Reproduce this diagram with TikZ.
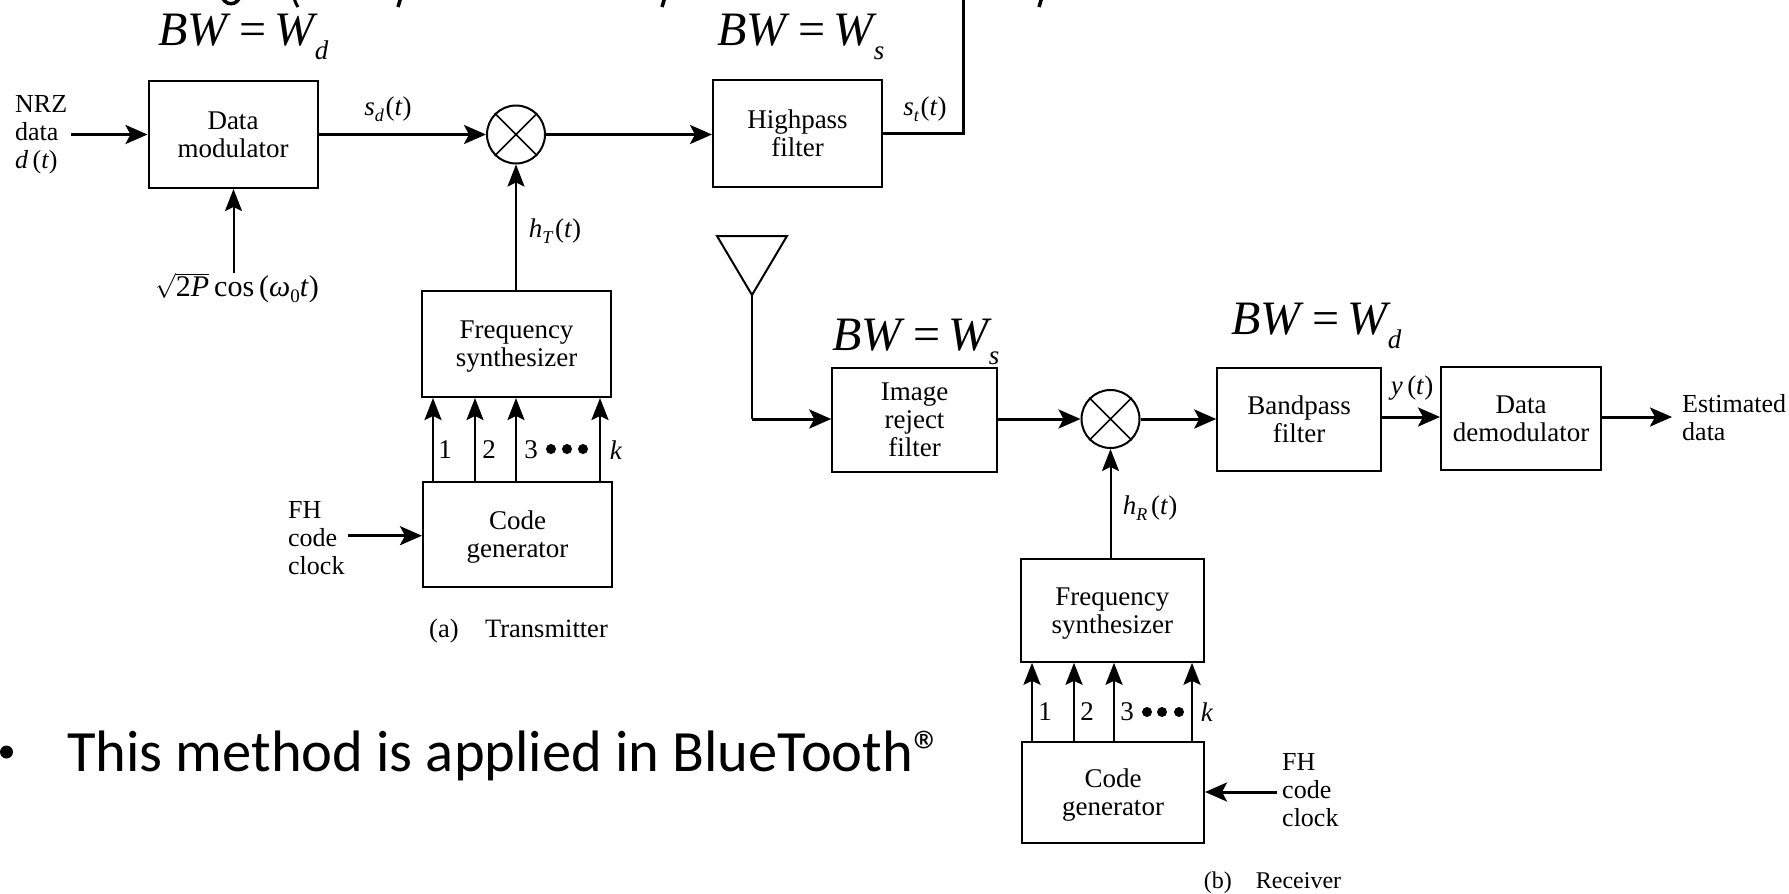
\documentclass[tikz,border=0pt]{standalone}
\usepackage{fontspec}
\setmainfont{Liberation Serif}
\newfontfamily\calfont{Carlito}
\usetikzlibrary{arrows.meta}
\newcommand{\fsz}[1]{\fontsize{#1}{#1}\selectfont}
\newcommand{\siglab}[2]{\textit{#1}\raisebox{-6pt}{\fsz{18}\textit{#2}}\kern1.5pt(\textit{t})}
\newcommand{\bwlab}[1]{\fsz{48}\textit{BW}\kern8pt=\kern8pt\textit{W}\kern-3pt\raisebox{-14pt}{\fsz{27}\textit{#1}}}
\tikzset{
  blk/.style={draw,line width=2pt,inner sep=0pt,align=center,font=\fontsize{27}{28}\selectfont,text depth=0pt},
  lab/.style={inner sep=0pt,align=left,font=\fsz{26}},
  sig/.style={inner sep=0pt,font=\fsz{27}},
  mix/.style={draw,circle,line width=2pt,minimum size=58pt,inner sep=0pt},
  wire/.style={line width=3pt},
  arr/.style={line width=3pt,-{Stealth[length=22pt,width=19pt,inset=5pt]}},
  varr/.style={line width=2.6pt,-{Stealth[length=22pt,width=17pt,inset=4pt]}},
  dotm/.style={circle,fill=black,inner sep=0pt,minimum size=10pt},
  bw/.style={inner sep=0pt,anchor=base west}
}
\begin{document}
\begin{tikzpicture}[x=1pt,y=-1pt]
\useasboundingbox (0,0) rectangle (1789,894);
% clipped fragments of the line above
\begin{scope}
\clip (0,0) rectangle (1789,8);
\draw[line width=3.5pt] (221,-6) .. controls (224,7) and (238,7) .. (241,-6);
\draw[line width=3pt] (293,-8) .. controls (294,0) and (296,4) .. (298,7);
\draw[line width=3.5pt] (401,-3) -- (398,7);
\draw[line width=3.5pt] (665,-3) -- (662,7);
\draw[line width=3.5pt] (1042,-3) -- (1039,7);
\end{scope}
% transmitter
\node[blk,minimum width=169pt,minimum height=107pt] (dm) at (233,134.5) {Data\\modulator};
\node[mix] (mt) at (516,134.5) {};
\node[blk,minimum width=169pt,minimum height=107pt] (hp) at (797.5,133.5) {Highpass\\filter};
\node[blk,minimum width=189pt,minimum height=106pt] (fst) at (516.5,344) {Frequency\\synthesizer};
\node[blk,minimum width=189pt,minimum height=105pt] (cgt) at (517.5,534.5) {Code\\generator};
\draw[line width=1.6pt] (mt.45) -- (mt.225) (mt.135) -- (mt.315);
\coordinate (nrz) at (71,134.5);
\coordinate (cosin) at (233.5,273);
\coordinate (tup) at (963,0);
\coordinate (fhta) at (348,535.7);
\draw[arr] (nrz) -- (dm.west |- nrz);
\draw[arr] (dm.east |- mt.west) -- (mt.west);
\draw[arr] (mt.east) -- (hp.west |- mt.east);
\draw[wire] (hp.east) -| (tup);
\draw[varr,line width=2pt] (cosin) -- (cosin |- dm.south);
\draw[varr,line width=2pt] (mt.south |- fst.north) -- (mt.south);
\draw[arr] (fhta) -- (cgt.west |- fhta);
\foreach \n/\xx in {1/433,2/475,3/516,4/600}{
  \coordinate (ta\n) at (\xx,440);
  \draw[varr] (ta\n |- cgt.north) -- (ta\n |- fst.south);
}
\node[lab,anchor=west] (nrzl) at (15,135) {NRZ\\[2pt]data\\[2pt]\textit{d}\,(\textit{t})};
\node[sig] (sdl) at (388,109) {\siglab{s}{d}};
\node[sig] (stl) at (925,109) {\siglab{s}{t}};
\node[sig] (htl) at (555,231) {\siglab{h}{T}};
\node[sig,font=\fsz{30}] (cosl) at (237,288) {$\sqrt{\mbox{2\textit{P}}}$\,cos\,(\textit{ω}\raisebox{-6pt}{\fsz{19}0}\textit{t})};
\node[sig] (tn1) at (445,450) {1};
\node[sig] (tn2) at (489,450) {2};
\node[sig] (tn3) at (531,450) {3};
\node[dotm] (td1) at (551,449) {};
\node[dotm] (td2) at (567,449) {};
\node[dotm] (td3) at (583,449) {};
\node[sig] (tk) at (616,450) {\textit{k}};
\node[lab,anchor=west] (fht) at (288,538) {FH\\[2pt]code\\[2pt]clock};
\node[sig,font=\fsz{26.5}] (capt) at (518.5,631) {(a)\quad Transmitter};
% antenna
\coordinate (ap) at (752,295);
\draw[line width=2pt,line join=miter] (717,236) -- (787,236) -- (ap) -- cycle;
% receiver
\node[blk,minimum width=164.5pt,minimum height=104pt] (irf) at (914.5,420) {Image\\reject\\filter};
\node[mix] (mr) at (1110.5,419) {};
\node[blk,minimum width=163.5pt,minimum height=103pt] (bpf) at (1299,419.3) {Bandpass\\filter};
\node[blk,minimum width=160pt,minimum height=103pt] (ddm) at (1521,418.3) {Data\\demodulator};
\node[blk,minimum width=183pt,minimum height=103pt] (fsr) at (1112.3,610.3) {Frequency\\synthesizer};
\node[blk,minimum width=182pt,minimum height=101pt] (cgr) at (1113,792.5) {Code\\generator};
\draw[line width=1.6pt] (mr.45) -- (mr.225) (mr.135) -- (mr.315);
\coordinate (estend) at (1672,417);
\coordinate (fhra) at (1277,792);
\draw[wire,line width=2pt] (ap) -- (ap |- mr.west);
\draw[arr] (ap |- mr.west) -- (irf.west |- mr.west);
\draw[arr] (irf.east |- mr.west) -- (mr.west);
\draw[arr] (mr.east) -- (bpf.west |- mr.east);
\draw[arr] (bpf.east |- estend) -- (ddm.west |- estend);
\draw[arr] (ddm.east |- estend) -- (estend);
\draw[varr,line width=2pt] (mr.south |- fsr.north) -- (mr.south);
\draw[arr] (fhra) -- (cgr.east |- fhra);
\foreach \n/\xx in {1/1032,2/1074,3/1114,4/1192}{
  \coordinate (ra\n) at (\xx,700);
  \draw[varr] (ra\n |- cgr.north) -- (ra\n |- fsr.south);
}
\node[sig] (yl) at (1412,388) {\textit{y}\,(\textit{t})};
\node[lab,anchor=west] (estl) at (1682,418) {Estimated\\[2pt]data};
\node[sig] (hrl) at (1150,508) {\textit{h}\raisebox{-6pt}{\fsz{18}\textit{R}}\kern4pt(\textit{t})};
\node[sig] (rn1) at (1045,712) {1};
\node[sig] (rn2) at (1087,712) {2};
\node[sig] (rn3) at (1127,712) {3};
\node[dotm] (rd1) at (1147,712) {};
\node[dotm] (rd2) at (1162,712) {};
\node[dotm] (rd3) at (1179,712) {};
\node[sig] (rk) at (1207,712) {\textit{k}};
\node[lab,anchor=west] (fhr) at (1282,790) {FH\\[2pt]code\\[2pt]clock};
\node[sig,font=\fsz{24}] (capr) at (1272.5,883) {(b)\quad Receiver};
% BW labels
\node[bw] (bw1) at (158,45) {\bwlab{d}};
\node[bw] (bw2) at (717,45) {\bwlab{s}};
\node[bw] (bw3) at (832,350) {\bwlab{s}};
\node[bw] (bw4) at (1231,334) {\bwlab{d}};
% bullet line
\node[circle,fill=black,inner sep=0pt,minimum size=13pt] (bul) at (6.5,752) {};
\node[inner sep=0pt,anchor=base west,font=\calfont\fsz{58.5}] (btxt) at (67,771) {This method is applied in BlueTooth®};
\end{tikzpicture}
\end{document}
